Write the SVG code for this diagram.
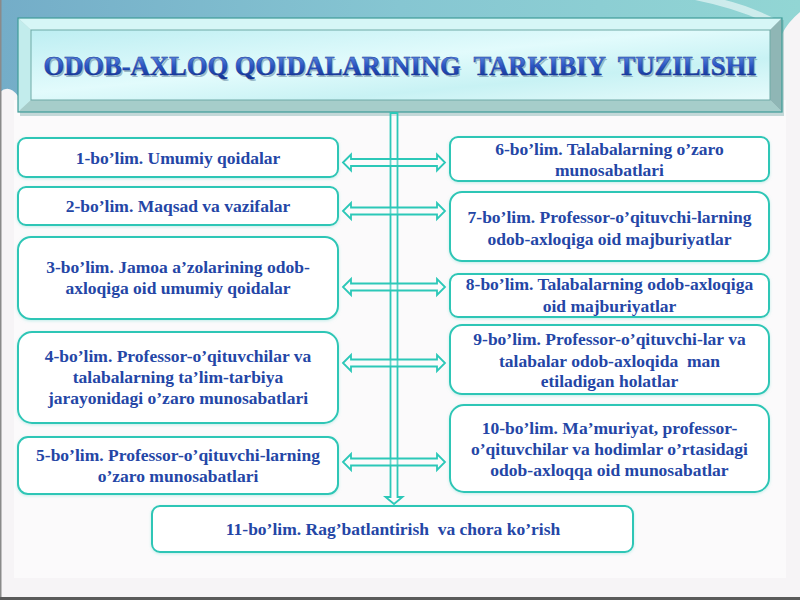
<svg xmlns="http://www.w3.org/2000/svg" width="800" height="600" viewBox="0 0 800 600">
  <defs>
    <linearGradient id="topBand" x1="0" y1="0" x2="1" y2="0">
      <stop offset="0" stop-color="#74adc8"/>
      <stop offset="0.5" stop-color="#86c6d2"/>
      <stop offset="1" stop-color="#92d6d4"/>
    </linearGradient>
    <linearGradient id="face" x1="0" y1="0" x2="1" y2="1">
      <stop offset="0" stop-color="#bdeef2"/>
      <stop offset="0.45" stop-color="#e2fbfc"/>
      <stop offset="0.7" stop-color="#c8f2f4"/>
      <stop offset="1" stop-color="#e6fbfb"/>
    </linearGradient>
    <linearGradient id="titleText" x1="0" y1="0" x2="0" y2="1">
      <stop offset="0" stop-color="#6f9ce8"/>
      <stop offset="0.5" stop-color="#2a55c4"/>
      <stop offset="1" stop-color="#102c88"/>
    </linearGradient>
    <filter id="boxShadow" x="-5%" y="-20%" width="110%" height="140%">
      <feGaussianBlur in="SourceAlpha" stdDeviation="1.5"/>
      <feOffset dx="0" dy="1" result="b"/>
      <feFlood flood-color="#9fe6df" flood-opacity="0.6"/>
      <feComposite in2="b" operator="in"/>
      <feMerge><feMergeNode/><feMergeNode in="SourceGraphic"/></feMerge>
    </filter>
    <path id="dbl" d="M0,0 L8,-8 L8,-3.5 L94,-3.5 L94,-8 L102,0 L94,8 L94,3.5 L8,3.5 L8,8 Z"/>
  </defs>
  <style>
    .box { fill: #ffffff; stroke: #2dc6b6; stroke-width: 2; }
    .t { font-family: 'Liberation Serif', 'DejaVu Serif', serif; font-weight: 700; font-size: 17.5px; fill: #2446a6; text-anchor: middle; white-space: pre; }
    .conn { fill: #ffffff; fill-opacity: 0.25; stroke: #2cc8b8; stroke-width: 1.8; stroke-linejoin: miter; }
    .title { font-family: 'Liberation Serif', 'DejaVu Serif', serif; font-weight: 700; font-size: 26.5px; text-anchor: middle; white-space: pre; }
  </style>

  <!-- background -->
  <rect x="0" y="0" width="800" height="600" fill="#f6f4f6"/>
  <rect x="14" y="100" width="772" height="478" fill="#fbfafb"/>
  <path d="M0,0 H800 V12 Q788,22 782,34 L782,20 L18,20 L18,96 Q9,84 0,92 Z" fill="url(#topBand)"/>
  <path d="M695,0 Q735,8 765,22 L782,22 Q750,6 725,0 Z" fill="#ffffff" fill-opacity="0.55"/>
  <rect x="0" y="0" width="1.5" height="600" fill="#8a8a8a"/>
  <rect x="0" y="597" width="800" height="3" fill="#5a5a5a"/>

  <!-- title -->
  <g id="title">
    <rect x="20" y="20" width="764" height="96" fill="#7fb0ad" opacity="0.45"/>
    <polygon points="18,18 782,18 770,30 31,30" fill="#d6f6f6"/>
    <polygon points="18,18 31,30 31,100 18,112" fill="#c2ecec"/>
    <polygon points="782,18 782,112 770,100 770,30" fill="#8fb6b5"/>
    <polygon points="18,112 31,100 770,100 782,112" fill="#a6cdca"/>
    <rect x="31" y="30" width="739" height="70" fill="url(#face)" stroke="#6fa9a6" stroke-width="1"/>
    <rect x="18" y="18" width="764" height="94" fill="none" stroke="#3f9c98" stroke-width="1.2"/>
    <text class="title" x="401.5" y="76.5" fill="#6d8fa6" fill-opacity="0.6" textLength="713" lengthAdjust="spacingAndGlyphs">ODOB-AXLOQ QOIDALARINING  TARKIBIY  TUZILISHI</text>
    <text class="title" x="400" y="75" fill="url(#titleText)" stroke="#123090" stroke-width="0.4" textLength="713" lengthAdjust="spacingAndGlyphs">ODOB-AXLOQ QOIDALARINING  TARKIBIY  TUZILISHI</text>
  </g>

  <!-- connectors -->
  <g id="connectors">
    <path class="conn" d="M390.5,113 L397.5,113 L397.5,497 L402.5,497 L394,504 L385.5,497 L390.5,497 Z"/>
    <use href="#dbl" class="conn" transform="translate(343,162.5)"/>
    <use href="#dbl" class="conn" transform="translate(343,211)"/>
    <use href="#dbl" class="conn" transform="translate(343,287)"/>
    <use href="#dbl" class="conn" transform="translate(343,363)"/>
    <use href="#dbl" class="conn" transform="translate(343,462)"/>
  </g>

  <!-- left column -->
  <g id="b1">
    <rect class="box" x="18" y="138" width="320" height="39" rx="8" filter="url(#boxShadow)"/>
    <text class="t" x="178" y="163.5">1-bo’lim. Umumiy qoidalar</text>
  </g>
  <g id="b2">
    <rect class="box" x="18" y="187" width="320" height="38" rx="8" filter="url(#boxShadow)"/>
    <text class="t" x="178" y="211.5">2-bo’lim. Maqsad va vazifalar</text>
  </g>
  <g id="b3">
    <rect class="box" x="18" y="237" width="320" height="82" rx="13" filter="url(#boxShadow)"/>
    <text class="t" x="178" y="273">3-bo’lim. Jamoa a’zolarining odob-</text>
    <text class="t" x="178" y="294">axloqiga oid umumiy qoidalar</text>
  </g>
  <g id="b4">
    <rect class="box" x="18" y="332" width="320" height="91" rx="14" filter="url(#boxShadow)"/>
    <text class="t" x="178" y="362">4-bo’lim. Professor-o’qituvchilar va</text>
    <text class="t" x="178" y="383">talabalarning ta’lim-tarbiya</text>
    <text class="t" x="178" y="404">jarayonidagi o’zaro munosabatlari</text>
  </g>
  <g id="b5">
    <rect class="box" x="18" y="437" width="320" height="57" rx="10" filter="url(#boxShadow)"/>
    <text class="t" x="178" y="461">5-bo’lim. Professor-o’qituvchi-larning</text>
    <text class="t" x="178" y="482">o’zaro munosabatlari</text>
  </g>

  <!-- right column -->
  <g id="b6">
    <rect class="box" x="450" y="137" width="319" height="44" rx="8" filter="url(#boxShadow)"/>
    <text class="t" x="609.5" y="155">6-bo’lim. Talabalarning o’zaro</text>
    <text class="t" x="609.5" y="176">munosabatlari</text>
  </g>
  <g id="b7">
    <rect class="box" x="450" y="192" width="319" height="69" rx="12" filter="url(#boxShadow)"/>
    <text class="t" x="609.5" y="223">7-bo’lim. Professor-o’qituvchi-larning</text>
    <text class="t" x="609.5" y="245">odob-axloqiga oid majburiyatlar</text>
  </g>
  <g id="b8">
    <rect class="box" x="450" y="274" width="319" height="43" rx="8" filter="url(#boxShadow)"/>
    <text class="t" x="609.5" y="290">8-bo’lim. Talabalarning odob-axloqiga</text>
    <text class="t" x="609.5" y="311.5">oid majburiyatlar</text>
  </g>
  <g id="b9">
    <rect class="box" x="450" y="325" width="319" height="69" rx="12" filter="url(#boxShadow)"/>
    <text class="t" x="609.5" y="344.5">9-bo’lim. Professor-o’qituvchi-lar va</text>
    <text class="t" x="609.5" y="366.5">talabalar odob-axloqida  man</text>
    <text class="t" x="609.5" y="387">etiladigan holatlar</text>
  </g>
  <g id="b10">
    <rect class="box" x="450" y="405" width="319" height="87" rx="14" filter="url(#boxShadow)"/>
    <text class="t" x="609.5" y="433.5">10-bo’lim. Ma’muriyat, professor-</text>
    <text class="t" x="609.5" y="454.5">o’qituvchilar va hodimlar o’rtasidagi</text>
    <text class="t" x="609.5" y="475.5">odob-axloqqa oid munosabatlar</text>
  </g>

  <!-- bottom -->
  <g id="b11">
    <rect class="box" x="152" y="506" width="481" height="46" rx="8" filter="url(#boxShadow)"/>
    <text class="t" x="393" y="535">11-bo’lim. Rag’batlantirish  va chora ko’rish</text>
  </g>
</svg>
